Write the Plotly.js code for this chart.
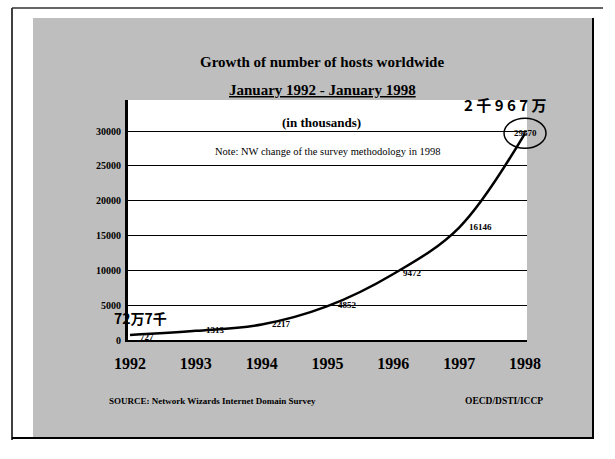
<!DOCTYPE html>
<html>
<head>
<meta charset="utf-8">
<script src="https://cdn.plot.ly/plotly-3.0.1.min.js"></script>
<style>
  html, body { margin: 0; padding: 0; background: #ffffff; }
  #chart { width: 615px; height: 459px; }
</style>
</head>
<body>
<div id="chart"></div>
<script>
// ---- data ----
const years = [1992, 1993, 1994, 1995, 1996, 1997, 1998];
const yearLabels = ['1992', '1993', '1994', '1995', '1996', '1997', '1998'];
const hosts = [727, 1313, 2217, 4852, 9472, 16146, 29670];
const hostLabels = ['727', '1313', '2217', '4852', '9472', '16146', '29670'];
const yTickVals = [0, 5000, 10000, 15000, 20000, 25000, 30000];
const yTickText = ['0', '5000', '10000', '15000', '20000', '25000', '30000'];

// ---- geometry / style ----
const W = 615, H = 459;
const M = { l: 128, r: 88, t: 100, b: 119 };
const plotW = W - M.l - M.r, plotH = H - M.t - M.b;
const xRange = [1991.97, 1998.03];
const yRange = [0, 34450];
const px = v => (v - M.l) / plotW;           // page pixel -> paper x
const py = v => (H - M.b - v) / plotH;        // page pixel -> paper y
const dataToPaperX = v => (v - xRange[0]) / (xRange[1] - xRange[0]);
const dataToPaperY = v => (v - yRange[0]) / (yRange[1] - yRange[0]);
const serif = 'Liberation Serif, Times New Roman, serif';
const cjk = 'Noto Sans CJK SC, sans-serif';
const last = hosts.length - 1;

const trace = {
  x: years, y: hosts,
  type: 'scatter', mode: 'lines',
  line: { color: '#000', width: 2.5, shape: 'spline', smoothing: 1 },
  hoverinfo: 'skip', showlegend: false
};

const shapes = [
  // gray panel
  { type: 'rect', xref: 'paper', yref: 'paper', x0: px(33), x1: px(593), y0: py(438), y1: py(18),
    fillcolor: '#bebebe', line: { width: 0 }, layer: 'below' },
  // right + bottom dark border of panel
  { type: 'line', xref: 'paper', yref: 'paper', x0: px(593), x1: px(593), y0: py(438), y1: py(18),
    line: { color: '#000', width: 2 }, layer: 'below' },
  { type: 'line', xref: 'paper', yref: 'paper', x0: px(12), x1: px(594), y0: py(438), y1: py(438),
    line: { color: '#000', width: 2 }, layer: 'below' },
  // outer frame left + top
  { type: 'line', xref: 'paper', yref: 'paper', x0: px(12), x1: px(12), y0: py(440), y1: py(8),
    line: { color: '#000', width: 1.5 }, layer: 'below' },
  { type: 'line', xref: 'paper', yref: 'paper', x0: px(12), x1: px(603), y0: py(8), y1: py(8),
    line: { color: '#333', width: 1.5 }, layer: 'below' },
  // white plot box
  { type: 'rect', xref: 'paper', yref: 'paper', x0: 0, x1: 1, y0: 0, y1: 1,
    fillcolor: '#ffffff', line: { width: 0 }, layer: 'below' },
  // circle around the last value
  { type: 'circle', xref: 'paper', yref: 'paper', xsizemode: 'pixel', ysizemode: 'pixel',
    xanchor: dataToPaperX(years[last]), yanchor: dataToPaperY(hosts[last]),
    x0: -21, x1: 21, y0: -15, y1: 15, line: { color: '#000', width: 1.5 }, layer: 'above' }
];

const ann = (text, x, y, size, opts = {}) => Object.assign({
  text, xref: 'paper', yref: 'paper', x: px(x), y: py(y), showarrow: false,
  xanchor: 'center', yanchor: 'middle',
  font: { family: serif, size, color: '#000', weight: 'bold' }
}, opts);

// value labels, placed at the data points through the axes
const valueLabels = hosts.map((v, i) => ({
  text: hostLabels[i], xref: 'x', yref: 'y', x: years[i], y: v, showarrow: false,
  xanchor: i === last ? 'center' : 'left', yanchor: 'middle',
  xshift: i === last ? 0 : 8, yshift: i === 0 ? -2 : (i === last ? 0 : 1),
  font: { family: serif, size: 9, color: '#000', weight: 'bold' }
}));

const annotations = [
  ann('Growth of number of hosts worldwide', 322, 62, 15),
  ann('<u>January 1992 - January 1998</u>', 322, 90, 15),
  ann('(in thousands)', 321, 122, 13),
  ann('Note: NW change of the survey methodology in 1998', 328, 151, 10.5,
      { font: { family: serif, size: 10.5, color: '#000' } }),
  ann('2 千 9 6 7 万', 505, 104, 15, { font: { family: cjk, size: 15, color: '#000', weight: 'bold' } }),
  ann('72万7千', 140, 318, 14, { font: { family: cjk, size: 14, color: '#000', weight: 'bold' } }),
  ann('SOURCE: Network Wizards Internet Domain Survey', 107, 401, 9, { xanchor: 'left' }),
  ann('OECD/DSTI/ICCP', 545, 401, 9.5, { xanchor: 'right' })
].concat(valueLabels);

const layout = {
  width: W, height: H,
  margin: M,
  paper_bgcolor: '#ffffff',
  plot_bgcolor: 'rgba(0,0,0,0)',
  showlegend: false,
  xaxis: {
    range: xRange, fixedrange: true,
    tickvals: years, ticktext: yearLabels,
    tickfont: { family: serif, size: 16, color: '#000', weight: 'bold' },
    showgrid: false, zeroline: false,
    showline: true, linecolor: '#000', linewidth: 2,
    ticks: 'outside', ticklen: 0, ticklabelstandoff: 8
  },
  yaxis: {
    range: yRange, fixedrange: true,
    tickvals: yTickVals, ticktext: yTickText,
    tickfont: { family: serif, size: 10, color: '#000', weight: 'bold' },
    showgrid: true, gridcolor: '#000', gridwidth: 1,
    zeroline: false,
    showline: true, linecolor: '#000', linewidth: 3,
    ticks: '', ticklabelstandoff: 2
  },
  shapes, annotations
};

Plotly.newPlot('chart', [trace], layout, { staticPlot: true, displayModeBar: false });
</script>
</body>
</html>
